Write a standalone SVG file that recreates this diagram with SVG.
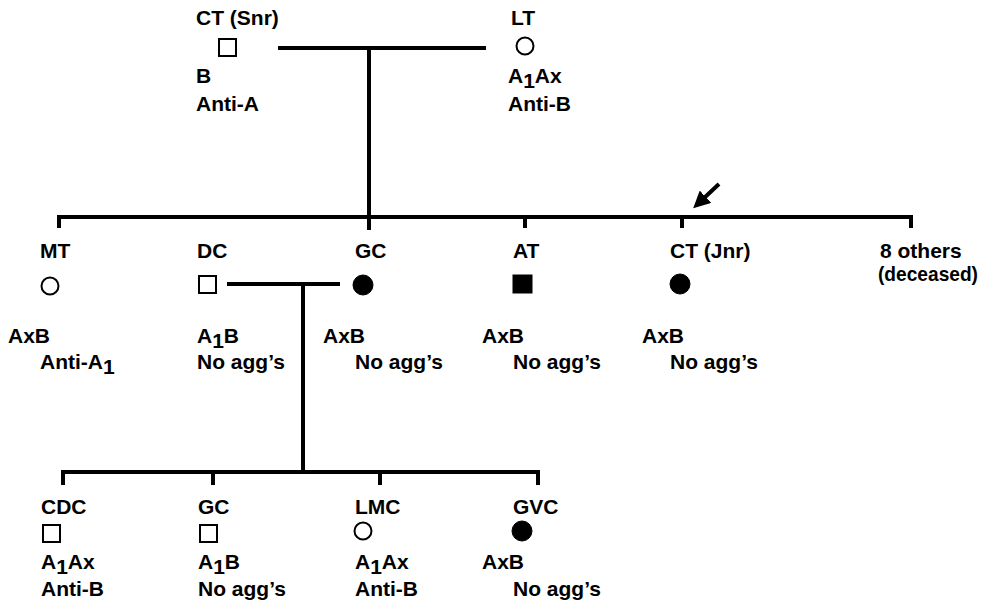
<svg xmlns="http://www.w3.org/2000/svg" width="996" height="601" viewBox="0 0 996 601">
  <style>
    text { font-family: "Liberation Sans", Arial, sans-serif; font-weight: bold; font-size: 21px; fill: #000; }
    .line { stroke: #000; stroke-width: 4; fill: none; stroke-linecap: butt; }
    .open { fill: #fff; stroke: #000; stroke-width: 2; }
    .solid { fill: #000; stroke: #000; stroke-width: 1; }
  </style>
  <defs>
    <marker id="head" viewBox="0 0 10 10" refX="2" refY="5" markerWidth="4.2" markerHeight="4.2" orient="auto" markerUnits="strokeWidth">
      <path d="M0,0 L10,5 L0,10 Z" fill="#000"/>
    </marker>
  </defs>
  <rect width="996" height="601" fill="#fff"/>

  <!-- connectors -->
  <g id="connectors">
    <!-- parents -->
    <line class="line" x1="278" y1="48" x2="486" y2="48"/>
    <line class="line" x1="369" y1="48" x2="369" y2="230"/>
    <!-- sibling bar -->
    <line class="line" x1="57" y1="217" x2="913" y2="217"/>
    <line class="line" x1="59" y1="215" x2="59" y2="228"/>
    <line class="line" x1="525" y1="217" x2="525" y2="228"/>
    <line class="line" x1="682" y1="217" x2="682" y2="228"/>
    <line class="line" x1="911" y1="215" x2="911" y2="228"/>
    <!-- DC and GC -->
    <line class="line" x1="227" y1="284" x2="340" y2="284"/>
    <line class="line" x1="303" y1="284" x2="303" y2="472"/>
    <!-- grandchildren bar -->
    <line class="line" x1="61" y1="472" x2="540" y2="472"/>
    <line class="line" x1="63" y1="470" x2="63" y2="485"/>
    <line class="line" x1="213" y1="472" x2="213" y2="485"/>
    <line class="line" x1="380" y1="472" x2="380" y2="485"/>
    <line class="line" x1="538" y1="470" x2="538" y2="485"/>
    <!-- propositus arrow -->
    <line class="line" x1="719" y1="184" x2="703" y2="199" marker-end="url(#head)"/>
  </g>

  <g id="ct-snr">
    <text x="196" y="25">CT (Snr)</text>
    <rect class="open" x="219" y="39" width="17" height="17"/>
    <text x="196" y="83">B</text>
    <text x="196" y="111">Anti-A</text>
  </g>

  <g id="lt">
    <text x="511" y="25">LT</text>
    <circle class="open" cx="525" cy="46" r="8.5"/>
    <text x="508" y="83">A<tspan dy="5">1</tspan><tspan dy="-5">Ax</tspan></text>
    <text x="508" y="111">Anti-B</text>
  </g>

  <g id="mt">
    <text x="40" y="258">MT</text>
    <circle class="open" cx="50" cy="286" r="8.5"/>
    <text x="8" y="343">AxB</text>
    <text x="40" y="369">Anti-A<tspan dy="5">1</tspan></text>
  </g>

  <g id="dc">
    <text x="197" y="258">DC</text>
    <rect class="open" x="199" y="276" width="17" height="17"/>
    <text x="197" y="343">A<tspan dy="5">1</tspan><tspan dy="-5">B</tspan></text>
    <text x="197" y="369">No agg’s</text>
  </g>

  <g id="gc">
    <text x="355" y="258">GC</text>
    <circle class="solid" cx="363" cy="285" r="10"/>
    <text x="323" y="343">AxB</text>
    <text x="355" y="369">No agg’s</text>
  </g>

  <g id="at">
    <text x="513" y="258">AT</text>
    <rect class="solid" x="513" y="275" width="19" height="18"/>
    <text x="482" y="343">AxB</text>
    <text x="513" y="369">No agg’s</text>
  </g>

  <g id="ct-jnr">
    <text x="670" y="258">CT (Jnr)</text>
    <circle class="solid" cx="680" cy="284" r="10"/>
    <text x="642" y="343">AxB</text>
    <text x="670" y="369">No agg’s</text>
  </g>

  <g id="others">
    <text x="880" y="258">8 others</text>
    <text x="878" y="281" textLength="100" lengthAdjust="spacingAndGlyphs">(deceased)</text>
  </g>

  <g id="cdc">
    <text x="41" y="514">CDC</text>
    <rect class="open" x="43" y="525" width="17" height="17"/>
    <text x="41" y="569">A<tspan dy="5">1</tspan><tspan dy="-5">Ax</tspan></text>
    <text x="41" y="596">Anti-B</text>
  </g>

  <g id="gc2">
    <text x="198" y="514">GC</text>
    <rect class="open" x="200" y="525" width="17" height="17"/>
    <text x="198" y="569">A<tspan dy="5">1</tspan><tspan dy="-5">B</tspan></text>
    <text x="198" y="596">No agg’s</text>
  </g>

  <g id="lmc">
    <text x="355" y="514">LMC</text>
    <circle class="open" cx="363" cy="531" r="8.5"/>
    <text x="355" y="569">A<tspan dy="5">1</tspan><tspan dy="-5">Ax</tspan></text>
    <text x="355" y="596">Anti-B</text>
  </g>

  <g id="gvc">
    <text x="513" y="514">GVC</text>
    <circle class="solid" cx="522" cy="531" r="10"/>
    <text x="482" y="569">AxB</text>
    <text x="513" y="596">No agg’s</text>
  </g>
</svg>
